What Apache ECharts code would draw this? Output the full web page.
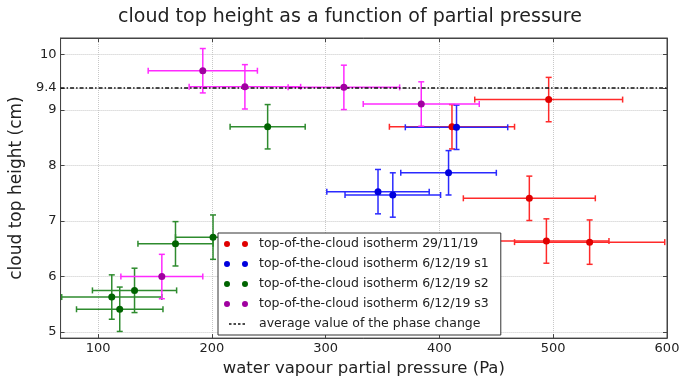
<!DOCTYPE html>
<html>
<head>
<meta charset="utf-8">
<script src="https://cdn.jsdelivr.net/npm/echarts@6/dist/echarts.min.js"></script>
<style>
  html, body { margin: 0; padding: 0; background: #fff; }
  #chart { width: 700px; height: 382px; }
</style>
</head>
<body>
<div id="chart"></div>
<script>
// series names
var nameRed = 'top-of-the-cloud isotherm 29/11/19';
var nameBlue = 'top-of-the-cloud isotherm 6/12/19 s1';
var nameGreen = 'top-of-the-cloud isotherm 6/12/19 s2';
var nameMag = 'top-of-the-cloud isotherm 6/12/19 s3';
var namePhase = 'average value of the phase change';

// 29/11/19
var redX = [496, 411, 479, 494, 532];
var redY = [9.19, 8.70, 7.41, 6.64, 6.62];
var redXErr = [65, 55, 58, 55, 66];
var redYErr = [0.4, 0.4, 0.4, 0.4, 0.4];

// 6/12/19 s1
var blueX = [415, 408, 346, 359];
var blueY = [8.69, 7.87, 7.53, 7.47];
var blueXErr = [45, 42, 45, 42];
var blueYErr = [0.4, 0.4, 0.4, 0.4];

// 6/12/19 s2
var greenX = [249, 201, 168, 132, 112, 119];
var greenY = [8.70, 6.71, 6.59, 5.75, 5.63, 5.41];
var greenXErr = [33, 33, 33, 37, 44, 38];
var greenYErr = [0.4, 0.4, 0.4, 0.4, 0.4, 0.4];

// 6/12/19 s3
var magX = [192, 229, 316, 384, 156];
var magY = [9.71, 9.42, 9.41, 9.11, 6.00];
var magXErr = [48, 49, 49, 51, 36];
var magYErr = [0.4, 0.4, 0.4, 0.4, 0.4];

// phase change line
var phaseY = 9.4;

// ticks
var xTicks = [100, 200, 300, 400, 500, 600];
var yTicks = [5, 6, 7, 8, 9, 9.4, 10];

function zip4(a, b, c, d) {
    var out = [];
    for (var i = 0; i < a.length; i++) out.push([a[i], b[i], c[i], d[i]]);
    return out;
}
function zip2(a, b) {
    var out = [];
    for (var i = 0; i < a.length; i++) out.push([a[i], b[i]]);
    return out;
}

// draws the x and y error bars with caps
function errorBars(color) {
    return function (params, api) {
        var x = api.value(0), y = api.value(1), dx = api.value(2), dy = api.value(3);
        var l = api.coord([x - dx, y]), r = api.coord([x + dx, y]);
        var t = api.coord([x, y + dy]), b = api.coord([x, y - dy]);
        var c = 3;
        function seg(x1, y1, x2, y2) {
            return { type: 'line', shape: { x1: x1, y1: y1, x2: x2, y2: y2 },
                     style: { stroke: color, lineWidth: 1.5 } };
        }
        return {
            type: 'group',
            children: [
                seg(l[0], l[1], r[0], r[1]),
                seg(t[0], t[1], b[0], b[1]),
                seg(l[0], l[1] - c, l[0], l[1] + c),
                seg(r[0], r[1] - c, r[0], r[1] + c),
                seg(t[0] - c, t[1], t[0] + c, t[1]),
                seg(b[0] - c, b[1], b[0] + c, b[1])
            ]
        };
    };
}

function errSeries(id, data, color) {
    return {
        name: id,
        type: 'custom',
        renderItem: errorBars(color),
        encode: { x: 0, y: 1 },
        data: data,
        z: 2
    };
}
function pointSeries(name, data, color) {
    return {
        name: name,
        type: 'scatter',
        symbol: 'circle',
        symbolSize: 7,
        itemStyle: { color: color, opacity: 1 },
        data: data,
        z: 4
    };
}

var dotsIcon = 'path://M0,3a3,3 0 1,0 6,0a3,3 0 1,0 -6,0ZM18,3a3,3 0 1,0 6,0a3,3 0 1,0 -6,0Z';
var dashIcon = 'path://M0,0h0.01v0.01h-0.01ZM0,5.99h0.01v0.01h-0.01ZM5,2.3h2.5v1.4h-2.5ZM9.5,2.3h2.5v1.4h-2.5ZM14,2.3h2.5v1.4h-2.5ZM18.5,2.3h2.5v1.4h-2.5ZM23.99,2.3h0.01v0.01h-0.01Z';

var font = 'DejaVu Sans';
var chart = echarts.init(document.getElementById('chart'));

var option = {
    animation: false,
    textStyle: { fontFamily: font },
    title: {
        text: 'cloud top height as a function of partial pressure',
        left: 'center',
        top: 3,
        textStyle: { fontFamily: font, fontSize: 19, fontWeight: 'normal', color: '#222' }
    },
    grid: {
        left: 52, right: 33, top: 38, bottom: 40,
        show: true, borderColor: '#444', borderWidth: 1
    },
    legend: {
        orient: 'vertical',
        left: 218,
        top: 233,
        padding: [3, 12, 3, 6],
        itemGap: 4,
        itemWidth: 24,
        itemHeight: 6,
        backgroundColor: '#fff',
        borderColor: '#333',
        borderWidth: 1,
        borderRadius: 0,
        selectedMode: false,
        textStyle: { fontFamily: font, fontSize: 12.5, color: '#222', lineHeight: 16, padding: [0, 0, 0, 6] },
        data: [
            { name: nameRed, icon: dotsIcon, itemStyle: { color: '#e00000' } },
            { name: nameBlue, icon: dotsIcon, itemStyle: { color: '#0000dd' } },
            { name: nameGreen, icon: dotsIcon, itemStyle: { color: '#006400' } },
            { name: nameMag, icon: dotsIcon, itemStyle: { color: '#a000a0' } },
            { name: namePhase, icon: dashIcon, itemStyle: { color: '#111' } }
        ]
    },
    xAxis: [{
        type: 'value',
        min: 67,
        max: 600,
        name: 'water vapour partial pressure (Pa)',
        nameLocation: 'middle',
        nameGap: 15,
        nameTextStyle: { fontFamily: font, fontSize: 16.5, color: '#222' },
        axisLine: { lineStyle: { color: '#444' } },
        axisTick: { inside: true, length: 4, customValues: xTicks, lineStyle: { color: '#444' } },
        axisLabel: { customValues: xTicks, fontSize: 13, color: '#222', margin: 4 },
        splitLine: { show: true, lineStyle: { color: '#c8c8c8', type: 'dotted' } }
    }, {
        type: 'value',
        position: 'top',
        min: 67,
        max: 600,
        axisLine: { lineStyle: { color: '#444' } },
        axisTick: { inside: true, length: 4, customValues: xTicks, lineStyle: { color: '#444' } },
        axisLabel: { show: false },
        splitLine: { show: false }
    }],
    yAxis: [{
        type: 'value',
        min: 4.89,
        max: 10.3,
        name: 'cloud top height (cm)',
        nameLocation: 'middle',
        nameGap: 19,
        nameTextStyle: { fontFamily: font, fontSize: 17, color: '#222' },
        axisLine: { show: true, lineStyle: { color: '#444' } },
        axisTick: { show: true, inside: true, length: 4, customValues: yTicks, lineStyle: { color: '#444' } },
        axisLabel: { customValues: yTicks, fontSize: 13, color: '#222', margin: 4 },
        splitLine: { show: true, lineStyle: { color: '#c8c8c8', type: 'dotted' } }
    }, {
        type: 'value',
        position: 'right',
        min: 4.89,
        max: 10.3,
        axisLine: { show: true, lineStyle: { color: '#444' } },
        axisTick: { show: true, inside: true, length: 4, customValues: yTicks, lineStyle: { color: '#444' } },
        axisLabel: { show: false },
        splitLine: { show: false }
    }],
    series: [
        errSeries('err-red', zip4(redX, redY, redXErr, redYErr), '#ff2a2a'),
        errSeries('err-blue', zip4(blueX, blueY, blueXErr, blueYErr), '#2a2aff'),
        errSeries('err-green', zip4(greenX, greenY, greenXErr, greenYErr), '#2e8b2e'),
        errSeries('err-mag', zip4(magX, magY, magXErr, magYErr), '#ff2aff'),
        {
            name: namePhase,
            type: 'line',
            data: [[67, phaseY], [600, phaseY]],
            symbol: 'none',
            itemStyle: { color: '#111' },
            lineStyle: { color: '#111', width: 1.5, type: [4, 2, 1.5, 2] },
            z: 3
        },
        pointSeries(nameRed, zip2(redX, redY), '#e00000'),
        pointSeries(nameBlue, zip2(blueX, blueY), '#0000dd'),
        pointSeries(nameGreen, zip2(greenX, greenY), '#006400'),
        pointSeries(nameMag, zip2(magX, magY), '#a000a0')
    ]
};

chart.setOption(option);
</script>
</body>
</html>
